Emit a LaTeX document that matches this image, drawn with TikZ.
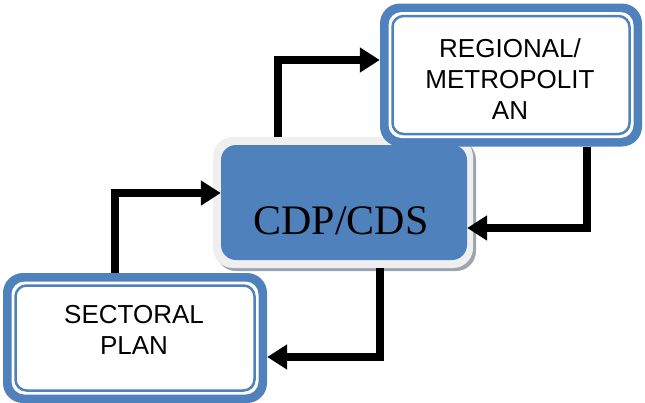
\documentclass[tikz,border=0pt]{standalone}
\usepackage{fontspec}
\setmainfont{Liberation Serif}
\setsansfont{Liberation Sans}
\usetikzlibrary{arrows.meta,calc}
\definecolor{officeblue}{HTML}{4F81BD}
\definecolor{glowgray}{HTML}{EFEFEF}
\definecolor{shadegray}{HTML}{9EA4AD}
\tikzset{
  arr/.style={line width=8pt,-{Triangle[length=20pt,width=24pt]}},
  sanslabel/.style={font=\sffamily\fontsize{26}{31}\selectfont,align=center,inner sep=0pt},
}
\begin{document}
\begin{tikzpicture}[x=1pt,y=-1pt]
\useasboundingbox (0,0) rectangle (645,402);

% central block: drop shade, light rim, blue face
\fill[shadegray,rounded corners=20pt] (216,140) rectangle (476,271);
\node[fill=glowgray,rounded corners=20pt,minimum width=260pt,minimum height=131pt,inner sep=0pt] (cdp) at (343,202.5) {};
\node[fill=officeblue,rounded corners=15pt,minimum width=246pt,minimum height=115pt,inner sep=0pt] (cdpbox) at (344,202.5) {};
\node[font=\fontsize{42}{44}\selectfont,inner sep=0pt] (cdptext) at (341,221) {CDP/CDS};

% upper right block with double frame
\node[fill=officeblue,rounded corners=20pt,minimum width=262pt,minimum height=143pt,inner sep=0pt] (reg) at (511,75) {};
\node[fill=white,rounded corners=13pt,minimum width=245pt,minimum height=126pt,inner sep=0pt] (reginner) at (511,75) {};
\node[draw=officeblue,line width=2.5pt,fill=white,rounded corners=11pt,minimum width=237pt,minimum height=118pt,inner sep=0pt] (regline) at (511,75) {};
\node[sanslabel] (regtext) at (510,79) {REGIONAL/\\METROPOLIT\\AN};

% lower left block with double frame
\node[fill=officeblue,rounded corners=20pt,minimum width=264pt,minimum height=130pt,inner sep=0pt] (sec) at (135,338) {};
\node[fill=white,rounded corners=13pt,minimum width=247pt,minimum height=113pt,inner sep=0pt] (secinner) at (135,338) {};
\node[draw=officeblue,line width=2.5pt,fill=white,rounded corners=11pt,minimum width=239pt,minimum height=105pt,inner sep=0pt] (secline) at (135,338) {};
\node[sanslabel] (sectext) at (134,330) {SECTORAL\\PLAN};

% connectors
\coordinate (b1) at (278,60);
\coordinate (b2) at (587,228);
\coordinate (b3) at (380,357);
\coordinate (b4) at (115,193);
\draw[arr] (cdp.north -| b1) -- (b1) -- (b1 -| reg.west);
\draw[arr] (reg.south -| b2) -- (b2) -- (b2 -| cdpbox.east);
\draw[arr] (cdp.south -| b3) -- (b3) -- (b3 -| sec.east);
\draw[arr] (sec.north -| b4) -- (b4) -- (b4 -| cdpbox.west);
\end{tikzpicture}
\end{document}
